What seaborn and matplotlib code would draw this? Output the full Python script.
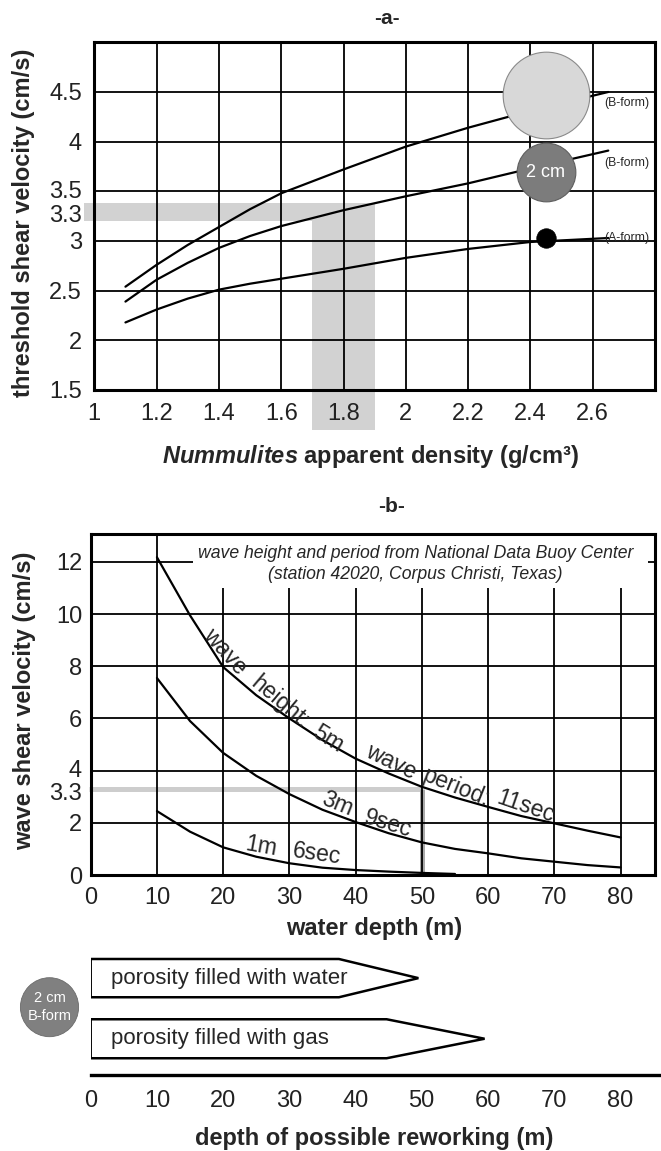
import numpy as np
import pandas as pd
import matplotlib
matplotlib.use("Agg")
import matplotlib.pyplot as plt
import seaborn as sns
from matplotlib.patches import Polygon, Rectangle, Ellipse
import matplotlib.transforms as mtransforms

# ---------------- panel a data ----------------
density = [1.1, 1.2, 1.3, 1.4, 1.5, 1.6, 1.8, 2.0, 2.2, 2.4, 2.65]
vel_b_large = [2.54, 2.76, 2.96, 3.14, 3.32, 3.48, 3.72, 3.95, 4.14, 4.31, 4.50]
vel_b_2cm = [2.39, 2.61, 2.78, 2.93, 3.05, 3.15, 3.31, 3.45, 3.58, 3.73, 3.91]
vel_a_form = [2.18, 2.31, 2.42, 2.51, 2.57, 2.62, 2.72, 2.83, 2.92, 2.99, 3.03]
form_labels = ["(B-form)", "(B-form)", "(A-form)"]
form_label_vel = [4.39, 3.79, 3.03]
specimen_density = [2.45, 2.45, 2.45]
specimen_vel = [4.47, 3.69, 3.03]
band_density = [1.7, 1.9]
band_vel = [3.2, 3.38]
a_xticks = [1, 1.2, 1.4, 1.6, 1.8, 2, 2.2, 2.4, 2.6]
a_yticks = [1.5, 2, 2.5, 3, 3.3, 3.5, 4, 4.5]

# ---------------- panel b data ----------------
depth = [10, 15, 20, 25, 30, 35, 40, 45, 50, 55, 60, 65, 70, 75, 80]
u_5m = [12.18, 9.95, 7.97, 6.89, 6.00, 5.17, 4.46, 3.89, 3.38, 2.97, 2.61, 2.26, 1.98, 1.70, 1.44]
u_3m = [7.55, 5.90, 4.68, 3.80, 3.10, 2.50, 2.03, 1.60, 1.25, 1.00, 0.83, 0.64, 0.51, 0.38, 0.29]
depth_1m = [10, 15, 20, 25, 30, 35, 40, 45, 50, 55]
u_1m = [2.45, 1.66, 1.06, 0.70, 0.45, 0.28, 0.19, 0.13, 0.08, 0.04]
critical_u = 3.3
critical_depth = 50
b_xticks = [0, 10, 20, 30, 40, 50, 60, 70, 80]
b_yticks = [0, 2, 3.3, 4, 6, 8, 10, 12]

# ---------------- panel c data ----------------
reworking_labels = ["porosity filled with water", "porosity filled with gas"]
reworking_depth = [49.5, 59.5]

# ---------------- styling ----------------
sns.set_theme(style="white")
plt.rcParams["font.family"] = ["Liberation Sans", "DejaVu Sans"]
plt.rcParams["mathtext.fontset"] = "custom"
plt.rcParams["mathtext.it"] = "Liberation Sans:italic:bold"
plt.rcParams["mathtext.rm"] = "Liberation Sans:bold"
plt.rcParams["mathtext.bf"] = "Liberation Sans:bold"

W, H = 661, 1151
fig = plt.figure(figsize=(W / 100, H / 100), dpi=100)
fig.patch.set_facecolor("white")


def box(l, t, r, b):
    return [l / W, 1 - b / H, (r - l) / W, (b - t) / H]


def ftext(px, py, s, **kw):
    kw.setdefault("ha", "center")
    kw.setdefault("va", "center")
    return fig.text(px / W, 1 - py / H, s, **kw)


def nudge_ytick(ax, value, dy_px):
    for tick in ax.yaxis.get_major_ticks():
        if abs(tick.get_loc() - value) < 1e-9:
            off = mtransforms.ScaledTranslation(0, dy_px / 100, fig.dpi_scale_trans)
            tick.label1.set_transform(tick.label1.get_transform() + off)


TICK_FS = 17
LABEL_FS = 17
GRID_LW = 1.3

# ================= panel a =================
axA = fig.add_axes(box(94.3, 42.3, 655, 390))
axA.set_xlim(1, 2.8)
axA.set_ylim(1.5, 5.0)
axA.set_xticks(a_xticks)
axA.set_xticklabels([f"{v:g}" for v in a_xticks])
axA.set_yticks(a_yticks)
axA.set_yticklabels([f"{v:g}" for v in a_yticks])
for v in a_xticks[1:]:
    axA.axvline(v, color="black", lw=GRID_LW, zorder=1)
for v in a_yticks[1:]:
    if v != 3.3:
        axA.axhline(v, color="black", lw=GRID_LW, zorder=1)

# grey reference bands
axA.add_patch(Rectangle((band_density[0], 1.10), band_density[1] - band_density[0],
                        band_vel[1] - 1.10, facecolor="#d2d2d2", edgecolor="none",
                        clip_on=False, zorder=0.5))
axA.add_patch(Rectangle((0.966, band_vel[0]), band_density[1] - 0.966,
                        band_vel[1] - band_vel[0], facecolor="#d2d2d2", edgecolor="none",
                        clip_on=False, zorder=0.5))

dfA = pd.DataFrame({"density": density * 3,
                    "vel": vel_b_large + vel_b_2cm + vel_a_form,
                    "form": ["large"] * len(density) + ["2cm"] * len(density) + ["A"] * len(density)})
sns.lineplot(data=dfA, x="density", y="vel", units="form", estimator=None,
             color="black", lw=1.6, ax=axA, zorder=2)

sns.scatterplot(x=specimen_density[:1], y=specimen_vel[:1], s=3894, color="#d8d8d8",
                edgecolor="#8a8a8a", linewidth=0.8, ax=axA, zorder=3, clip_on=False)
sns.scatterplot(x=specimen_density[1:2], y=specimen_vel[1:2], s=1786, color="#7c7c7c",
                edgecolor="#5e5e5e", linewidth=0.8, ax=axA, zorder=3)
sns.scatterplot(x=specimen_density[2:], y=specimen_vel[2:], s=197, color="black",
                edgecolor="black", linewidth=0.5, ax=axA, zorder=3)
axA.text(specimen_density[1], specimen_vel[1], "2 cm", color="white", fontsize=13,
         ha="center", va="center", zorder=4)
for lab, yv in zip(form_labels, form_label_vel):
    axA.text(2.637, yv, lab, fontsize=8.8, ha="left", va="center", zorder=4)

for sp in axA.spines.values():
    sp.set_color("black")
    sp.set_linewidth(2.2)
axA.tick_params(axis="both", which="both", direction="out", length=3, width=1.2,
                color="black", labelsize=TICK_FS, labelcolor="#222222")
axA.tick_params(axis="x", pad=6.5)
axA.tick_params(axis="y", pad=6)
axA.set_xlabel("")
axA.set_ylabel("")
nudge_ytick(axA, 3.5, 1.5)
nudge_ytick(axA, 3.3, -2.0)

ftext(387, 18, "-a-", fontsize=15, fontweight="bold")
ftext(24, 223, "threshold shear velocity (cm/s)", fontsize=LABEL_FS, fontweight="bold",
      rotation=90)
ftext(371, 456.7, r"$\mathit{Nummulites}$ apparent density (g/cm³)", fontsize=LABEL_FS,
      fontweight="bold")

# ================= panel b =================
axB = fig.add_axes(box(90.7, 534, 655, 875))
axB.set_xlim(0, 85.2)
axB.set_ylim(0, 13.07)
axB.set_xticks(b_xticks)
axB.set_xticklabels([f"{v:g}" for v in b_xticks])
axB.set_yticks(b_yticks)
axB.set_yticklabels([f"{v:g}" for v in b_yticks])
for v in b_xticks[1:]:
    axB.axvline(v, color="black", lw=GRID_LW, zorder=1)
for v in b_yticks[1:]:
    if v != critical_u:
        axB.axhline(v, color="black", lw=GRID_LW, zorder=1)

# white box behind the source note
axB.add_patch(Rectangle((15.5, 11.0), 84.2 - 15.5, 2.2, facecolor="white",
                        edgecolor="none", zorder=1.5))
axB.text(49.0, 12.32, "wave height and period from National Data Buoy Center",
         fontsize=12.7, style="italic", ha="center", va="center", zorder=3)
axB.text(49.0, 11.53, "(station 42020, Corpus Christi, Texas)",
         fontsize=12.7, style="italic", ha="center", va="center", zorder=3)

# grey reference lines
axB.plot([-0.2, critical_depth], [critical_u, critical_u], color="#cdcdcd", lw=3.6,
         solid_capstyle="butt", zorder=0.8, clip_on=False)
axB.plot([critical_depth, critical_depth], [0, critical_u], color="#a9a9a9", lw=3.6,
         solid_capstyle="butt", zorder=0.8)

dfB = pd.DataFrame({"depth": depth + depth + depth_1m,
                    "u": u_5m + u_3m + u_1m,
                    "wave": ["5m"] * len(depth) + ["3m"] * len(depth) + ["1m"] * len(depth_1m)})
sns.lineplot(data=dfB, x="depth", y="u", units="wave", estimator=None,
             color="black", lw=1.6, ax=axB, zorder=2)

curve_texts = [
    ("wave", 20.3, 8.55, -48), ("height:", 28.6, 6.63, -40), ("5m", 35.9, 5.22, -32),
    ("wave", 45.4, 4.33, -26), ("period:", 55.2, 3.37, -22), ("11sec", 65.6, 2.62, -19),
    ("3m", 37.2, 2.72, -22), ("9sec", 44.9, 1.95, -17),
    ("1m", 25.7, 1.11, -10), ("6sec", 34.2, 0.80, -8),
]
for s, xv, yv, rot in curve_texts:
    axB.text(xv, yv, s, fontsize=16.5, rotation=rot, rotation_mode="anchor",
             ha="center", va="center", zorder=3)

for sp in axB.spines.values():
    sp.set_color("black")
    sp.set_linewidth(2.2)
axB.tick_params(axis="both", which="both", direction="out", length=5, width=1.2,
                color="black", labelsize=TICK_FS, labelcolor="#222222")
axB.tick_params(axis="x", pad=3.5)
axB.tick_params(axis="y", pad=1.2)
axB.set_xlabel("")
axB.set_ylabel("")
nudge_ytick(axB, 4, 2.5)
nudge_ytick(axB, 3.3, -2.5)

ftext(391.7, 507, "-b-", fontsize=15, fontweight="bold")
ftext(25, 701, "wave shear velocity (cm/s)", fontsize=LABEL_FS, fontweight="bold",
      rotation=90)
ftext(374, 928, "water depth (m)", fontsize=LABEL_FS, fontweight="bold")

# ================= panel c =================
axC = fig.add_axes(box(90.7, 950, 661, 1075))
axC.set_xlim(0, 86.15)
axC.set_ylim(0, 1)
axC.set_xticks(b_xticks)
axC.set_xticklabels([f"{v:g}" for v in b_xticks])
axC.set_yticks([])
for k in ["top", "left", "right"]:
    axC.spines[k].set_visible(False)
axC.spines["bottom"].set_color("black")
axC.spines["bottom"].set_linewidth(2.4)
axC.tick_params(axis="x", direction="out", length=5.8, width=1.4, color="black",
                labelsize=TICK_FS, labelcolor="#222222", pad=5)
axC.set_facecolor("none")

trans = mtransforms.blended_transform_factory(axC.transData, axC.transAxes)
arrow_rows = [(0.928, 0.622), (0.446, 0.134)]
head_len = [12.0, 14.8]
for (yt, yb), end, hl, lab in zip(arrow_rows, reworking_depth, head_len, reworking_labels):
    ym = (yt + yb) / 2
    verts = [(0, yt), (end - hl, yt), (end, ym), (end - hl, yb), (0, yb)]
    axC.add_patch(Polygon(verts, closed=True, facecolor="white", edgecolor="black",
                          lw=1.8, transform=trans, zorder=2, joinstyle="miter"))
    axC.text(3.0, ym, lab, fontsize=16, ha="left", va="center", transform=trans, zorder=3)

# specimen disk at the left
fig.patches.append(Ellipse((49.5 / W, 1 - 1007.2 / H), 58.2 / W, 59 / H,
                           transform=fig.transFigure, facecolor="#808080",
                           edgecolor="#6a6a6a", lw=0.6))
ftext(49.5, 998.5, "2 cm", fontsize=10.5, color="white")
ftext(49.5, 1016, "B-form", fontsize=10.5, color="white")

ftext(374.5, 1138, "depth of possible reworking (m)", fontsize=LABEL_FS, fontweight="bold")

fig.savefig("out.png", dpi=100, facecolor="white")
